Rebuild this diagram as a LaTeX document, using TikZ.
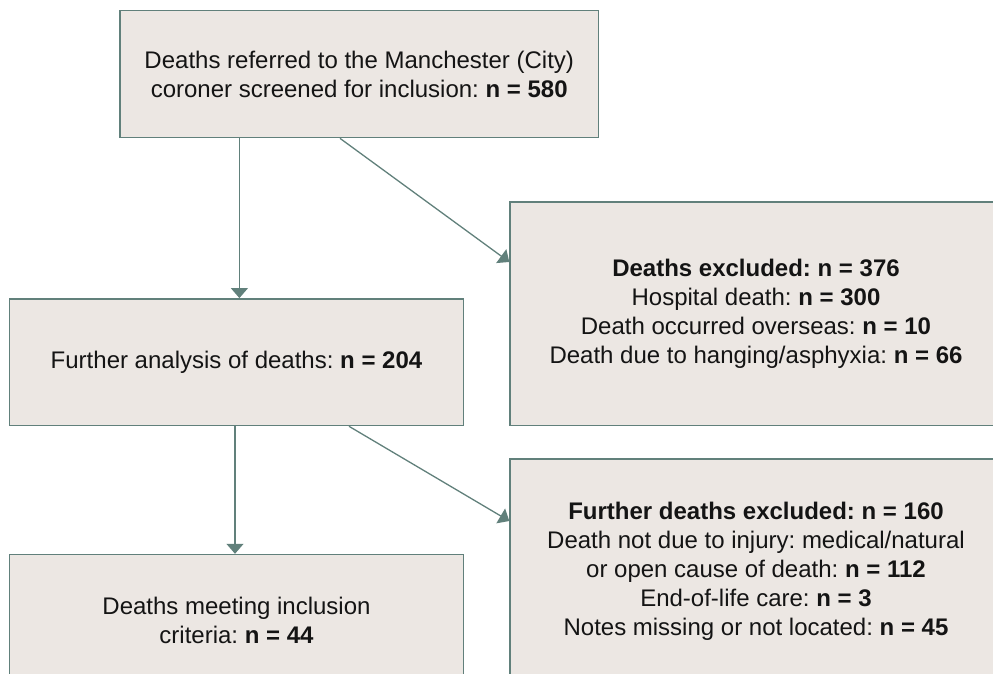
\documentclass[tikz,border=0pt]{standalone}
\usepackage{fontspec}
\setmainfont{Liberation Sans}
\usetikzlibrary{arrows.meta}
\definecolor{boxfill}{HTML}{ECE7E3}
\definecolor{edgecol}{HTML}{61807B}
\definecolor{txt}{HTML}{141414}
\frenchspacing
\tikzset{
  flowbox/.style={draw=edgecol, line width=1.4pt, fill=boxfill, rectangle, inner sep=0pt,
    align=center, text=txt, font=\fontsize{24}{29}\selectfont},
  arr/.style={draw=edgecol, line width=1.3pt, -{Triangle[width=17pt,length=10pt]}}
}
\begin{document}
\begin{tikzpicture}[x=1pt,y=-1pt]
\useasboundingbox (0,0) rectangle (993,674);
\clip (0,0) rectangle (993,674);
\node[flowbox, minimum width=478.5pt, minimum height=127pt] (top) at (359.25,74.15)
  {Deaths referred to the Manchester (City)\\coroner screened for inclusion: \textbf{n = 580}};
\node[flowbox, minimum width=454pt, minimum height=126.8pt] (ana) at (236.5,362.2)
  {Further analysis of deaths: \textbf{n = 204}};
\node[flowbox, minimum width=492pt, minimum height=223.6pt] (exa) at (756,313.8)
  {\textbf{Deaths excluded: n = 376}\\Hospital death: \textbf{n = 300}\\Death occurred overseas: \textbf{n = 10}\\Death due to hanging/asphyxia: \textbf{n = 66}};
\node[flowbox, minimum width=454pt, minimum height=131pt] (inc) at (236.5,620)
  {Deaths meeting inclusion\\criteria: \textbf{n = 44}};
\node[flowbox, minimum width=492pt, minimum height=225pt] (exb) at (756,571.5)
  {\textbf{Further deaths excluded: n = 160}\\Death not due to injury: medical/natural\\or open cause of death: \textbf{n = 112}\\End-of-life care: \textbf{n = 3}\\Notes missing or not located: \textbf{n = 45}};
\draw[arr] ([xshift=-119.85pt]top.south) -- ([xshift=2.9pt]ana.north);
\draw[arr] ([xshift=-19.25pt]top.south) -- ([yshift=51.8pt]exa.west);
\draw[arr] ([xshift=-1.5pt]ana.south) -- ([xshift=-1.5pt]inc.north);
\draw[arr] ([xshift=112.5pt]ana.south) -- ([yshift=50.5pt]exb.west);
\end{tikzpicture}
\end{document}
